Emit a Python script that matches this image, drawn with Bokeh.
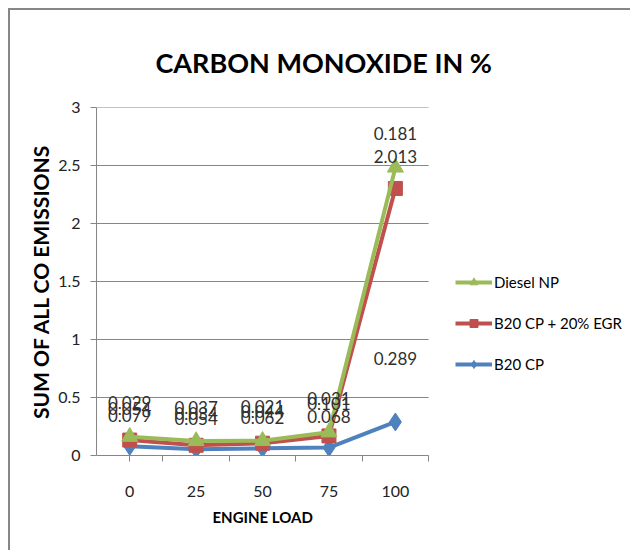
from bokeh.plotting import figure
from bokeh.models import (Range1d, FixedTicker, NumeralTickFormatter, Legend, LegendItem,
                          ColumnDataSource, LabelSet, Title)
from bokeh.core.properties import value
from bokeh.embed import file_html
from bokeh.resources import INLINE

# ---- data ----
load_labels = ["0", "25", "50", "75", "100"]
b20_cp = [0.079, 0.054, 0.062, 0.068, 0.289]
b20_cp_egr = [0.054, 0.034, 0.044, 0.101, 2.013]
diesel_np = [0.029, 0.037, 0.021, 0.031, 0.181]
y_ticks = [0, 0.5, 1, 1.5, 2, 2.5, 3]

FONT = "Lato"
GRID = "#868686"
BLUE = "#4F81BD"
RED = "#C0504D"
GREEN = "#9BBB59"

xs = list(range(len(load_labels)))
s1 = list(b20_cp)
s2 = [a + b for a, b in zip(s1, b20_cp_egr)]
s3 = [a + b for a, b in zip(s2, diesel_np)]

x_lo, x_hi = -0.5, len(xs) - 0.5
# frame extends to the right edge so the legend can sit inside it
p = figure(width=622, height=542, output_backend="svg", toolbar_location=None,
           x_range=Range1d(x_lo, 7.57), y_range=Range1d(0, 3),
           min_border_left=86, min_border_right=0, min_border_top=97, min_border_bottom=97)
p.styles = {"margin-left": "8px", "margin-top": "8px",
            "border-left": "2px solid #878787", "border-top": "2px solid #878787"}
p.outline_line_color = None
p.background_fill_color = "white"
p.border_fill_color = "white"

# title
p.title.text = "CARBON MONOXIDE IN %"
p.title.text_font = FONT
p.title.text_font_size = "27px"
p.title.text_font_style = "bold"
p.title.text_color = "#000000"
p.title.align = "left"
p.title.vertical_align = "top"
p.title.offset = 59
p.title.standoff = 54

# x axis
xa = p.xaxis[0]
xa.bounds = (x_lo, x_hi)
xa.ticker = FixedTicker(ticks=xs, minor_ticks=[x + 0.5 for x in [x_lo] + xs])
xa.major_label_overrides = {i: lab for i, lab in zip(xs, load_labels)}
xa.major_tick_out = 0
xa.major_tick_in = 0
xa.minor_tick_out = 6
xa.minor_tick_in = 0
xa.minor_tick_line_color = GRID
xa.axis_line_color = GRID
xa.major_label_text_font = FONT
xa.major_label_text_font_size = "16px"
xa.major_label_text_color = "#222222"
xa.major_label_standoff = 24

p.add_layout(Title(text="ENGINE LOAD", align="left", offset=116, standoff=13,
                   text_font=FONT, text_font_size="15px", text_font_style="bold",
                   text_color="#000000"), "below")

# y axis
ya = p.yaxis[0]
ya.ticker = FixedTicker(ticks=y_ticks)
ya.formatter = NumeralTickFormatter(format="0.[0]")
ya.major_tick_out = 6
ya.major_tick_in = 0
ya.minor_tick_line_color = None
ya.major_tick_line_color = GRID
ya.axis_line_color = GRID
ya.major_label_text_font = FONT
ya.major_label_text_font_size = "16px"
ya.major_label_text_color = "#222222"
ya.major_label_standoff = 10
ya.axis_label = "SUM OF ALL CO EMISSIONS"
ya.axis_label_text_font = FONT
ya.axis_label_text_font_size = "21px"
ya.axis_label_text_font_style = "bold"
ya.axis_label_text_color = "#000000"
ya.axis_label_standoff = 2

p.xgrid.grid_line_color = None
p.ygrid.grid_line_color = None
p.segment(x0=x_lo, y0=y_ticks, x1=x_hi, y1=y_ticks, line_color=GRID, line_width=1)

# series (stacked)
l1 = p.line(xs, s1, line_color=BLUE, line_width=4)
m1 = p.scatter(xs, s1, marker="diamond", size=18, fill_color=BLUE, line_color=BLUE)
l2 = p.line(xs, s2, line_color=RED, line_width=4)
m2 = p.scatter(xs, s2, marker="square", size=14, fill_color=RED, line_color=RED)
l3 = p.line(xs, s3, line_color=GREEN, line_width=4)
m3 = p.scatter(xs, s3, marker="triangle", size=16, fill_color=GREEN, line_color=GREEN)

# data labels
def add_labels(ys, vals, offsets):
    src = ColumnDataSource(dict(x=xs, y=ys, t=["%.3f" % v for v in vals], dy=offsets))
    p.add_layout(LabelSet(x="x", y="y", text="t", source=src, y_offset="dy",
                          text_align="center", text_baseline="middle",
                          text_font=value(FONT), text_font_size=value("17px"),
                          text_color="#303030"))

add_labels(s1, b20_cp, [31, 31, 31, 31, 63])
add_labels(s2, b20_cp_egr, [32] * 5)
add_labels(s3, diesel_np, [34] * 5)

legend = Legend(items=[
    LegendItem(label="Diesel NP", renderers=[l3, m3]),
    LegendItem(label="B20 CP + 20% EGR", renderers=[l2, m2]),
    LegendItem(label="B20 CP", renderers=[l1, m1]),
], location=(359, 81))
legend.border_line_color = None
legend.background_fill_alpha = 0
legend.padding = 0
legend.margin = 0
legend.spacing = 21
legend.glyph_width = 37
legend.glyph_height = 20
legend.label_height = 20
legend.label_standoff = 2
legend.label_text_font = FONT
legend.label_text_font_size = "15px"
legend.label_text_color = "#000000"
p.add_layout(legend, "center")

open("out.html", "w").write(file_html(p, INLINE))
